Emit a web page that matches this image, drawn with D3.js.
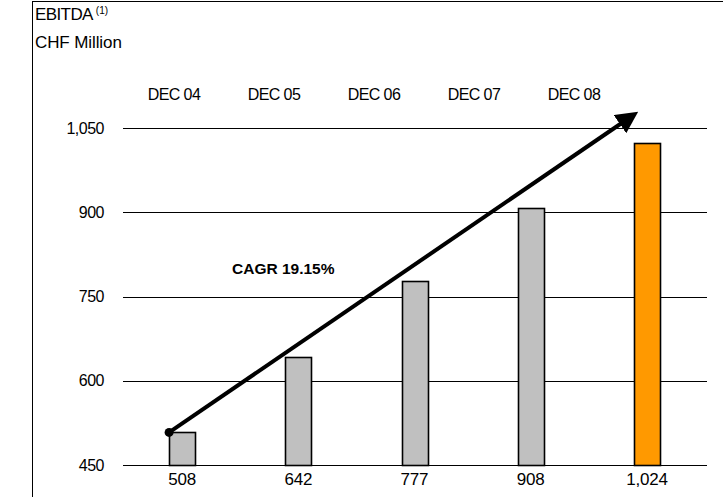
<!DOCTYPE html>
<html>
<head>
<meta charset="utf-8">
<script src="https://d3js.org/d3.v7.min.js"></script>
<style>
    body { margin: 0; background: #fff; }
    text { font-family: 'Liberation Sans', Arial, sans-serif; fill: #000; }
</style>
</head>
<body>
<svg id="chart" width="723" height="497"></svg>
<script>
// data
var years = ["DEC 04", "DEC 05", "DEC 06", "DEC 07", "DEC 08"];
var ebitda = [508, 642, 777, 908, 1024];
var valueLabels = ["508", "642", "777", "908", "1,024"];
var yTicks = [450, 600, 750, 900, 1050];
var cagrLabel = "CAGR 19.15%";
var arrowFrom = 508, arrowTo = 1070;

var svg = d3.select("#chart");

// outer frame (right and bottom fall outside the picture)
svg.append("rect")
    .attr("x", 32.5).attr("y", 1.5)
    .attr("width", 720).attr("height", 600)
    .attr("fill", "none").attr("stroke", "#000").attr("stroke-width", 1);

// titles
var t1 = svg.append("text").attr("x", 35).attr("y", 20)
    .style("font-size", "17px").style("letter-spacing", "-0.6px");
t1.append("tspan").text("EBITDA");
t1.append("tspan").attr("dx", 3).attr("dy", -6).style("font-size", "10px").style("letter-spacing", "0px").text("(1)");
svg.append("text").attr("x", 35).attr("y", 48)
    .style("font-size", "17px").style("letter-spacing", "-0.1px")
    .text("CHF Million");

var y = d3.scaleLinear().domain([450, 1050]).range([465, 128]);
var x = d3.scalePoint().domain(years).range([124, 705]).padding(0.5);
// column headers sit in their own row with tighter spacing
var xHead = d3.scalePoint().domain(years).range([124, 624]).padding(0.5);
var barW = 26;

// y labels
var ga = svg.append("g").attr("transform", "translate(123,0)")
    .call(d3.axisLeft(y).tickValues(yTicks).tickSize(0).tickPadding(19)
        .tickFormat(d3.format(",")));
ga.select(".domain").remove();
ga.selectAll("text").style("font-size", "16px")
    .style("font-family", "'Liberation Sans', Arial, sans-serif")
    .style("letter-spacing", "-0.5px");

// gridlines
svg.append("g").selectAll("line").data(yTicks).enter().append("line")
    .attr("x1", 123).attr("x2", 707)
    .attr("y1", function(d) { return Math.round(y(d)) + 0.5; })
    .attr("y2", function(d) { return Math.round(y(d)) + 0.5; })
    .attr("stroke", "#000").attr("stroke-width", 1);

// column headers
svg.append("g").selectAll("text").data(years).enter().append("text")
    .attr("x", function(d) { return xHead(d); })
    .attr("y", 100)
    .attr("text-anchor", "middle")
    .style("font-size", "16px").style("letter-spacing", "-0.6px")
    .text(function(d) { return d; });

// bars
svg.append("g").selectAll("rect").data(ebitda).enter().append("rect")
    .attr("x", function(d, i) { return Math.round(x(years[i]) - barW / 2) + 0.5; })
    .attr("y", function(d) { return Math.round(y(d)) + 0.5; })
    .attr("width", barW)
    .attr("height", function(d) { return Math.round(y(450)) - Math.round(y(d)); })
    .attr("fill", function(d, i) { return i === years.length - 1 ? "#ff9900" : "#c0c0c0"; })
    .attr("stroke", "#000").attr("stroke-width", 1.6);

// value labels under the axis
svg.append("g").selectAll("text").data(valueLabels).enter().append("text")
    .attr("x", function(d, i) { return x(years[i]); })
    .attr("y", 485)
    .attr("text-anchor", "middle")
    .style("font-size", "17px").style("letter-spacing", "-0.2px")
    .text(function(d) { return d; });

// CAGR arrow
svg.append("defs").append("marker")
    .attr("id", "head").attr("viewBox", "0 0 10 10")
    .attr("refX", 6).attr("refY", 5)
    .attr("markerWidth", 5.5).attr("markerHeight", 5.5)
    .attr("orient", "auto")
    .append("path").attr("d", "M0,0L10,5L0,10Z").attr("fill", "#000");

var x0 = x(years[0]) - barW / 2, x1 = x(years[4]) - 16;
svg.append("line")
    .attr("x1", x0).attr("y1", y(arrowFrom))
    .attr("x2", x1).attr("y2", y(arrowTo))
    .attr("stroke", "#000").attr("stroke-width", 4)
    .attr("marker-end", "url(#head)");
svg.append("circle").attr("cx", x0).attr("cy", y(arrowFrom)).attr("r", 4.5).attr("fill", "#000");

svg.append("text").attr("x", 232).attr("y", 274)
    .style("font-size", "15.5px").style("font-weight", "bold")
    .text(cagrLabel);
</script>
</body>
</html>
